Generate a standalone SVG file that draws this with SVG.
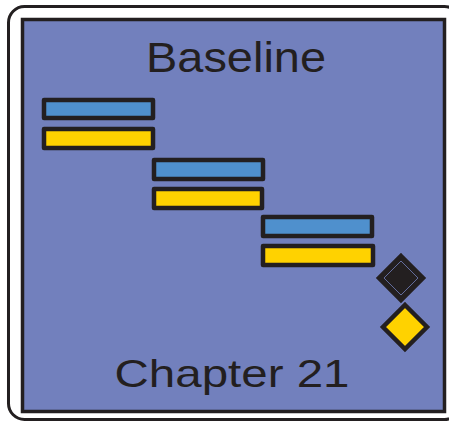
<svg xmlns="http://www.w3.org/2000/svg" width="449" height="425" viewBox="0 0 449 425">
<style>
.frame{fill:#ffffff;stroke:#231f20;stroke-width:3}
.panel{fill:#7280bd;stroke:#231f20;stroke-width:3.5}
.bar{stroke:#231f20;stroke-width:4.5;stroke-linejoin:round}
.blue{fill:#4f90cd}
.yellow{fill:#ffd200}
.ms{stroke:#231f20;stroke-width:4.5;stroke-linejoin:miter}
.t{font-family:"Liberation Sans",Arial,sans-serif;fill:#231f20;text-anchor:middle}
</style>
<rect class="frame" x="8.5" y="6.5" width="452" height="413" rx="16"/>
<rect class="panel" x="22.5" y="19.5" width="422" height="392"/>
<g id="title"><text class="t" x="236" y="72" font-size="42" textLength="180" lengthAdjust="spacingAndGlyphs">Baseline</text></g>
<g id="task1"><rect class="bar blue" x="44" y="100" width="109" height="18"/><rect class="bar yellow" x="44" y="129" width="109" height="19"/></g>
<g id="task2"><rect class="bar blue" x="154" y="160" width="109" height="19"/><rect class="bar yellow" x="154" y="189" width="108" height="19"/></g>
<g id="task3"><rect class="bar blue" x="263" y="217" width="109" height="19"/><rect class="bar yellow" x="263" y="246" width="110" height="19"/></g>
<g id="milestone1"><polygon class="ms" fill="#231f20" points="401,256 423,278 401,300 379,278"/><polygon fill="none" stroke="#7280bd" stroke-width="0.8" points="401,261 418,278 401,295 384,278"/></g>
<g id="milestone2"><polygon class="ms" fill="#ffd200" points="405,305 427,327 405,349 383,327"/></g>
<g id="subtitle"><text class="t" x="232" y="387" font-size="39" textLength="235" lengthAdjust="spacingAndGlyphs">Chapter 21</text></g>
</svg>
